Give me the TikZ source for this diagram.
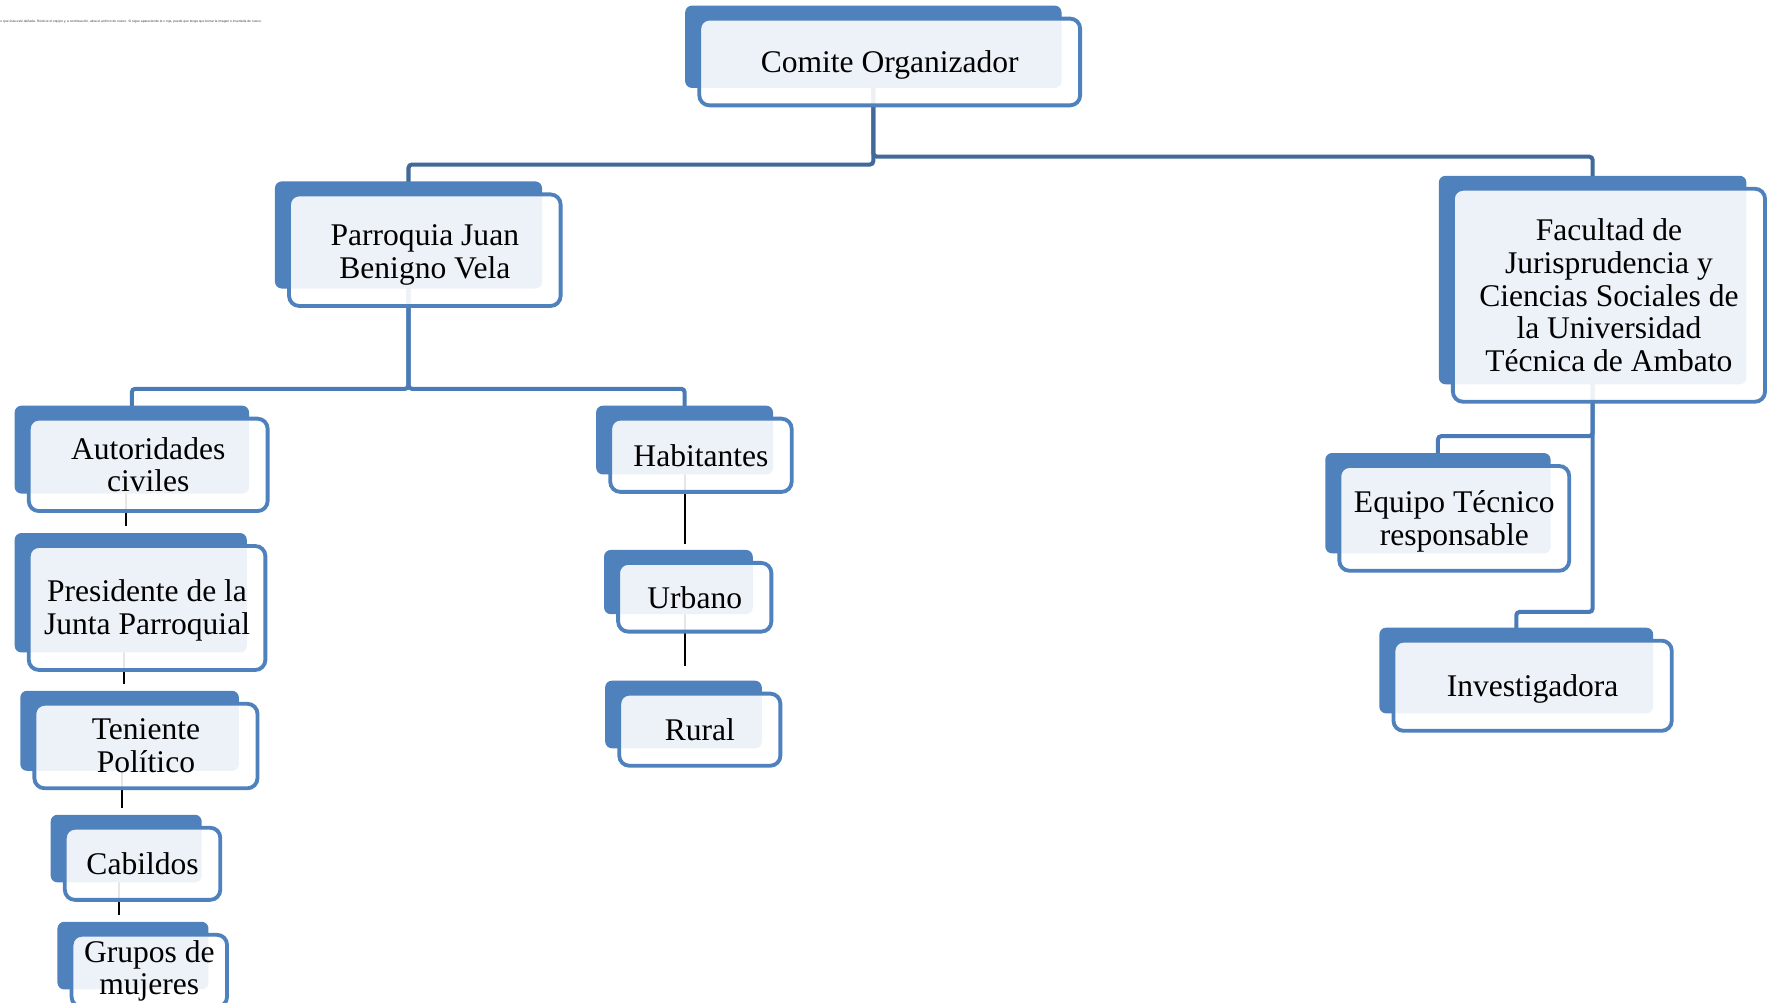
\documentclass[tikz,border=0pt]{standalone}
\usepackage{fontspec}
\setmainfont{Liberation Serif}
\newfontfamily\notefont{Liberation Sans}
\usepackage{tikz}
\usetikzlibrary{calc,backgrounds}
\definecolor{oblue}{HTML}{4F81BD}
\definecolor{olinkdark}{HTML}{41699A}
\definecolor{olink}{HTML}{4A7BB6}
\newcommand\olift[1]{\rule{0pt}{#1}}
\tikzset{
  obox/.style={rectangle, rounded corners=4.5pt, draw=oblue, line width=1.7pt,
               fill=white, fill opacity=0.9, text opacity=1, outer sep=0pt,
               align=center, inner sep=2pt, font=\fontsize{14}{14.5}\selectfont},
  oback/.style={fill=oblue, rounded corners=3pt},
  otop/.style={olinkdark, line width=1.8pt, rounded corners=1.5pt},
  olinkst/.style={olink, line width=1.8pt, rounded corners=1.5pt},
  osub/.style={black, line width=0.9pt},
  onote/.style={black!75, inner sep=0pt, anchor=west,
                font=\notefont\fontsize{1.46}{1.6}\selectfont},
}

\begin{document}
\begin{tikzpicture}[x=0.5pt,y=-0.5pt]
  \useasboundingbox (0,0) rectangle (1568,890);

  \node[onote] (nota) at (0,19.5) {o que ésta esté dañada. Reinicie el equipo y, a continuación, abra el archivo de nuevo. Si sigue apareciendo la x roja, puede que tenga que borrar la imagen e insertarla de nuevo.};

  % nivel 1
  \node[obox, minimum width=169pt, minimum height=38.5pt] (comite) at (789.5,55) {\olift{12.6pt}Comite Organizador};

  % nivel 2
  \node[obox, minimum width=120.5pt, minimum height=49.5pt] (parroquia) at (377,222) {\olift{13.6pt}Parroquia Juan\\Benigno Vela};
  \node[obox, minimum width=138.5pt, minimum height=94.5pt] (facultad) at (1427.75,262)
        {Facultad de\\Jurisprudencia y\\Ciencias Sociales de\\la Universidad\\Técnica de Ambato};

  % parroquia
  \node[obox, minimum width=106pt, minimum height=41pt]   (autoridades) at (131.5,412.5) {Autoridades\\civiles};
  \node[obox, minimum width=105pt, minimum height=55pt]   (presidente)  at (130.5,539.5) {\olift{11.8pt}Presidente de la\\Junta Parroquial};
  \node[obox, minimum width=99pt,  minimum height=37.5pt] (teniente)    at (129.5,662)   {Teniente\\Político};
  \node[obox, minimum width=69pt,  minimum height=32pt]   (cabildos)    at (126.5,766.5) {Cabildos};
  \node[obox, minimum width=69pt,  minimum height=32pt]   (grupos)      at (132.5,861.5) {Grupos de\\mujeres};

  \node[obox, minimum width=80.5pt, minimum height=32.5pt] (habitantes) at (622,404)   {Habitantes};
  \node[obox, minimum width=68pt,   minimum height=30.5pt] (urbano)     at (616.5,530) {Urbano};
  \node[obox, minimum width=71.5pt, minimum height=32pt]   (rural)      at (621,647.5) {Rural};

  % facultad
  \node[obox, minimum width=102pt,   minimum height=46.5pt] (equipo)        at (1290.5,460) {\olift{12.2pt}Equipo Técnico\\responsable};
  \node[obox, minimum width=123.5pt, minimum height=40pt]   (investigadora) at (1360,608.5) {\olift{12.2pt}Investigadora};

  \foreach \n in {comite,parroquia,facultad,autoridades,presidente,teniente,cabildos,grupos,
                  habitantes,urbano,rural,equipo,investigadora}
    \coordinate (\n-a) at ([shift={(-14.5,-13.5)}]\n.center);

  \begin{scope}[on background layer]
    \fill[white] (0,0) rectangle (1568,890);

    \draw[otop] (comite-a) |- ([yshift=31.25pt]parroquia-a) -- (parroquia-a);
    \draw[otop] (comite-a) |- ([yshift=54.75pt]facultad-a) -- (facultad-a);

    \draw[olinkst] (parroquia-a) |- ([yshift=27pt]autoridades-a) -- (autoridades-a);
    \draw[olinkst] (parroquia-a) |- ([yshift=22.75pt]habitantes-a) -- (habitantes-a);
    \draw[olinkst] (facultad-a) |- ([yshift=29.75pt]equipo-a) -- (equipo-a);
    \draw[olinkst] (facultad-a) |- ([yshift=26pt]investigadora-a) -- (investigadora-a);

    \foreach \p/\c/\dx/\gap in {autoridades/presidente/-19.5/17.5, presidente/teniente/-20.5/17.5,
                                teniente/cabildos/-21.5/17.5, cabildos/grupos/-20.5/17.5,
                                habitantes/urbano/-14/16.5, urbano/rural/-8.5/24.5}
      \draw[osub] ($(\p.center)+(\dx,0)$) -- ($(\p.center |- \c.north)+(\dx,-\gap)$);

    \foreach \n in {comite,parroquia,facultad,autoridades,presidente,teniente,cabildos,grupos,
                    habitantes,urbano,rural,equipo,investigadora}
      \fill[oback] ([shift={(-12.5,-11.5)}]\n.north west) rectangle ([shift={(-16.5,-15.5)}]\n.south east);
  \end{scope}
\end{tikzpicture}
\end{document}
